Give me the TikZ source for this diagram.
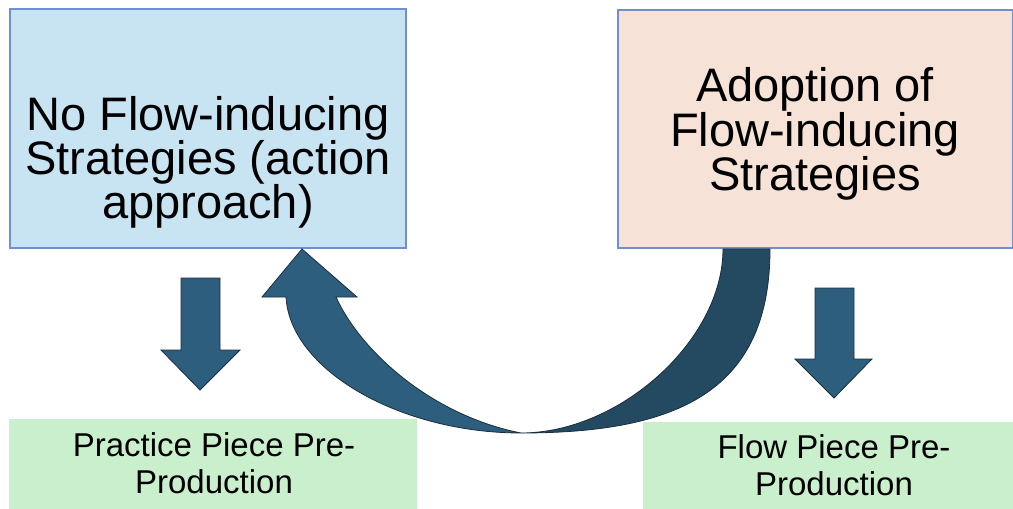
\documentclass[tikz,border=0pt]{standalone}
\usepackage{fontspec}
\setmainfont{Liberation Sans}
\definecolor{boxblue}{HTML}{C8E3F2}
\definecolor{boxpeach}{HTML}{F6E2D7}
\definecolor{boxgreen}{HTML}{CAEFCC}
\definecolor{boxedge}{HTML}{6E8FD3}
\definecolor{arrowfill}{HTML}{2E5E7E}
\definecolor{arrowdark}{HTML}{244A62}
\definecolor{arrowedge}{HTML}{1A2E3E}
\tikzset{
  topbox/.style={draw=boxedge, line width=1.5pt, inner sep=0pt},
  bottombox/.style={fill=boxgreen, draw=none, inner sep=0pt},
  bigtext/.style={inner sep=0pt, align=center, font=\fontsize{47}{44}\selectfont},
  smalltext/.style={inner sep=0pt, align=center, font=\fontsize{33}{37}\selectfont},
  blockarrow/.style={fill=arrowfill, draw=arrowedge, line width=0.8pt, line join=miter},
}
\begin{document}
\begin{tikzpicture}[x=1pt,y=-1pt]
\useasboundingbox (0,0) rectangle (1013,509);
% boxes
\node[topbox, fill=boxblue, minimum width=396pt, minimum height=239pt, anchor=north west] (nofs) at (9,8) {};
\node[topbox, fill=boxpeach, minimum width=395pt, minimum height=238pt, anchor=north west] (adopt) at (617,9) {};
\node[bottombox, minimum width=408pt, minimum height=90pt, anchor=north west] (prac) at (9,419) {};
\node[bottombox, minimum width=370pt, minimum height=87pt, anchor=north west] (flow) at (643,422) {};
% texts
\node[bigtext, anchor=north] (nofst) at (208,96) {No Flow-inducing\\Strategies (action\\approach)};
\node[bigtext, anchor=north, font=\fontsize{47}{41.7}\selectfont] (adoptt) at (815,67) {Adoption of\\Flow-inducing\\Strategies};
\node[smalltext, anchor=north] (pract) at (214,432) {Practice Piece Pre-\\Production};
\node[smalltext, anchor=north] (flowt) at (834,434) {Flow Piece Pre-\\Production};
% straight down arrows
\draw[blockarrow] (181,278) -- (220,278) -- (220,350) -- (240,350) -- (200,390) -- (161,350) -- (181,350) -- cycle;
\draw[blockarrow] (815,288) -- (854,288) -- (854,359) -- (872,359) -- (834,398) -- (795,359) -- (815,359) -- cycle;
% curved arrow: back band
\coordinate (bot) at (521,433);
\draw[fill=arrowdark, draw=arrowedge, line width=0.8pt]
  (723,249) -- (770,249) .. controls (770,390) and (680,433) .. (bot)
  .. controls (620,433) and (723,340) .. (723,249) -- cycle;
% curved arrow: front band with head
\draw[blockarrow]
  (302,249) -- (357,297) -- (336,297) .. controls (360,350) and (430,415) .. (bot)
  .. controls (400,433) and (290,370) .. (286,297) -- (262,297) -- cycle;
\end{tikzpicture}
\end{document}
